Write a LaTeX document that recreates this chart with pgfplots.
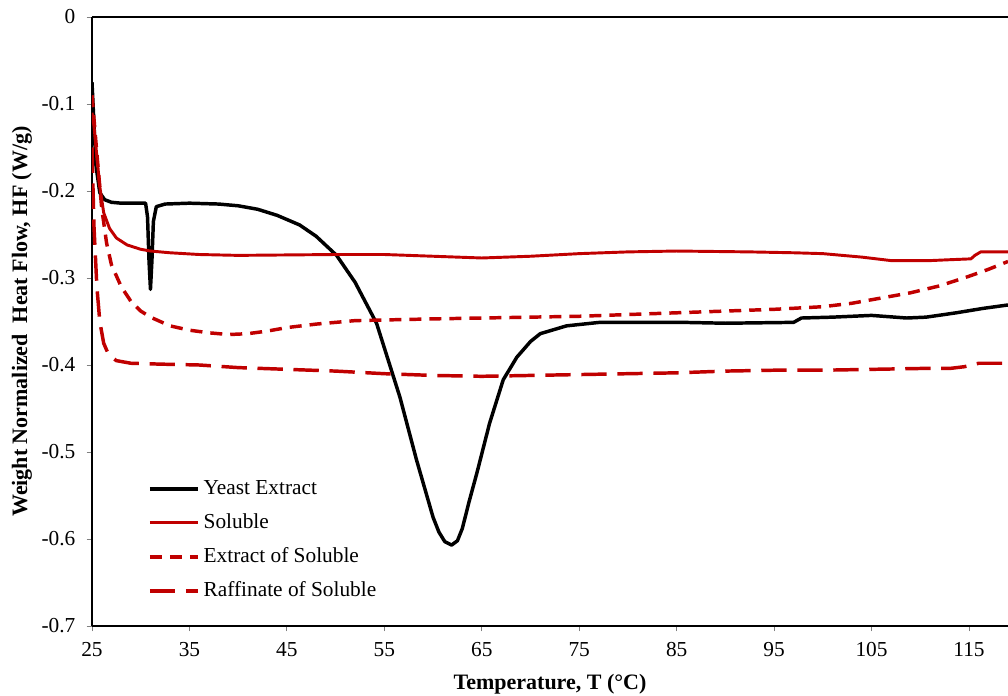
\documentclass[border=0pt]{standalone}
\usepackage{pgfplots}
\pgfplotsset{compat=1.18}
\usepackage{fontspec}
\setmainfont{Liberation Serif}
\definecolor{xlred}{RGB}{192,0,0}
\begin{document}
\begin{tikzpicture}
\path[use as bounding box] (-69pt,-52.5pt) rectangle (687pt,469.5pt);
\begin{axis}[
  at={(0pt,0pt)}, anchor=south west,
  scale only axis, width=687pt, height=456.75pt,
  xmin=25, xmax=119, ymin=-0.7, ymax=0,
  axis x line*=box, axis y line*=left,
  axis line style={black, line width=2pt},
  xtick={25,35,...,115},
  ytick={-0.7,-0.6,-0.5,-0.4,-0.3,-0.2,-0.1,0},
  yticklabels={-0.7,-0.6,-0.5,-0.4,-0.3,-0.2,-0.1,0},
  xticklabels={25,35,45,55,65,75,85,95,105,115},
  xtick pos=bottom,
  tick align=outside, major tick length=4pt,
  tick style={gray, line width=0.6pt},
  ticklabel style={font=\fontsize{16}{19}\selectfont},
  xticklabel style={yshift=-5pt},
  yticklabel style={xshift=-5pt},
  xlabel={\textbf{Temperature, T (°C)}},
  ylabel={\textbf{Weight Normalized\ \ Heat Flow, HF (W/g)}},
  label style={font=\fontsize{16.5}{19}\selectfont},
  xlabel style={at={(axis description cs:0.5,-0.0952)}, anchor=center},
  ylabel style={at={(axis description cs:-0.0764,0.5)}, anchor=center},
  legend style={draw=none, fill=none, at={(0.0611,0.243)}, anchor=north west,
    inner sep=0pt, row sep=9.5pt, column sep=3pt, font=\fontsize{16}{19}\selectfont,
    nodes={inner sep=0pt, text height=12pt, text depth=4pt},
    cells={anchor=west}},
  legend image code/.code={\draw[#1] (0pt,0pt) -- (36pt,0pt);},
  clip=true,
]
\addplot[black, line width=2.6pt, line join=round] coordinates {
(25.0,-0.075)(25.15,-0.11)(25.4,-0.17)(25.8,-0.202)(26.3,-0.21)(27,-0.213)(28,-0.214)(30.5,-0.214)(30.7,-0.23)(30.85,-0.28)(31.0,-0.313)(31.15,-0.28)(31.3,-0.235)(31.6,-0.218)(32.5,-0.215)(35,-0.214)(38,-0.215)(40,-0.217)(42,-0.221)(44,-0.228)(46.3,-0.239)(48,-0.252)(50.1,-0.274)(52,-0.305)(54.2,-0.352)(56.6,-0.437)(58.3,-0.509)(60,-0.575)(60.6,-0.592)(61.2,-0.603)(61.9,-0.607)(62.5,-0.602)(63,-0.588)(63.7,-0.557)(64.5,-0.524)(65.8,-0.467)(67.2,-0.417)(68.6,-0.391)(70,-0.373)(71,-0.364)(73.7,-0.355)(77.1,-0.351)(85.6,-0.351)(90,-0.352)(97,-0.351)(97.8,-0.346)(101,-0.345)(105,-0.343)(108.6,-0.346)(110.6,-0.345)(113.7,-0.340)(116.4,-0.335)(119,-0.331)
};
\addlegendentry{Yeast Extract}
\addplot[xlred, line width=2.2pt, line join=round] coordinates {
(25.0,-0.11)(25.2,-0.125)(25.5,-0.16)(25.8,-0.195)(26.2,-0.225)(26.8,-0.243)(27.5,-0.254)(28.6,-0.262)(30,-0.267)(31,-0.269)(33,-0.271)(36,-0.273)(40,-0.274)(50,-0.273)(55,-0.273)(60,-0.275)(65,-0.277)(70,-0.275)(75,-0.272)(80,-0.270)(85,-0.269)(92.5,-0.270)(97,-0.271)(100,-0.272)(104,-0.276)(107,-0.280)(111,-0.280)(113,-0.279)(115.2,-0.278)(115.6,-0.274)(116.2,-0.270)(119,-0.270)
};
\addlegendentry{Soluble}
\addplot[xlred, line width=2.6pt, dash pattern=on 9pt off 6pt] coordinates {
(25.0,-0.09)(25.3,-0.13)(25.6,-0.17)(26,-0.22)(26.5,-0.26)(27,-0.285)(28,-0.31)(29,-0.327)(30,-0.338)(31,-0.345)(33,-0.355)(35,-0.36)(37,-0.363)(39,-0.365)(41,-0.364)(43,-0.361)(45,-0.357)(48,-0.353)(52,-0.349)(56,-0.348)(60,-0.347)(65,-0.346)(70,-0.345)(75,-0.344)(80,-0.342)(85,-0.340)(90,-0.338)(95,-0.336)(100,-0.333)(103,-0.329)(106,-0.323)(109,-0.317)(112,-0.309)(115,-0.298)(117,-0.290)(119,-0.281)
};
\addlegendentry{Extract of Soluble}
\addplot[xlred, line width=2.6pt, dash pattern=on 19pt off 8pt] coordinates {
(25.0,-0.15)(25.2,-0.24)(25.5,-0.31)(25.8,-0.35)(26.2,-0.375)(26.7,-0.388)(27.5,-0.395)(29,-0.398)(32,-0.399)(36,-0.400)(40,-0.403)(45,-0.405)(50,-0.407)(55,-0.410)(60,-0.412)(65,-0.413)(70,-0.412)(75,-0.411)(80,-0.410)(85,-0.409)(90,-0.407)(95,-0.406)(100,-0.406)(105,-0.405)(110,-0.404)(113,-0.404)(114.5,-0.402)(116,-0.398)(119,-0.398)
};
\addlegendentry{Raffinate of Soluble}
\end{axis}
\end{tikzpicture}
\end{document}
